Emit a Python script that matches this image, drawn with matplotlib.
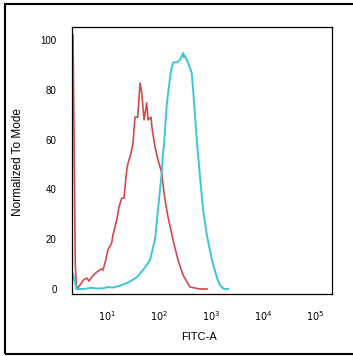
import matplotlib
matplotlib.use("Agg")
import matplotlib.pyplot as plt
from matplotlib.patches import Rectangle

plt.rcParams['font.family'] = ['Liberation Sans', 'DejaVu Sans']

# isotype control (red)
red_x = [2.22, 2.45, 2.6, 3.03, 3.5, 4.07, 4.51, 5.08, 6.34, 7.67, 8.38, 9.44,
         10.4, 12.3, 13.0, 15.4, 17.0, 19.2, 21.2, 23.9, 25.4, 29.0, 31.6,
         34.5, 38.9, 43.1, 46.5, 51.5, 58.0, 61.4, 70.1, 73.3, 83.8, 95.7,
         112.7, 124.8, 140.6, 148.9, 185.8, 231.9, 289.4, 394.5, 614, 837]
red_y = [102, 10, 0, 1.6, 3.6, 4.4, 3.2, 4.8, 6.8, 8, 7.6, 11.6,
         15.7, 18.5, 21.7, 27.7, 33, 36.5, 36.5, 47.8, 50.6, 54.6, 58.6,
         69, 69, 82.7, 78.7, 67.9, 74.7, 67.9, 69, 64.7, 57, 51.8,
         46.6, 38.6, 31.7, 29, 19.7, 11.6, 5.6, 0.8, 0, 0]

# stained sample (cyan)
cyan_x = [2.22, 2.6, 3.5, 5.0, 6.3, 8.4, 10.4, 13.0, 17.0, 24.2, 30, 37.7,
          49.2, 67.1, 83.8, 95.7, 104.5, 112.7, 119.4, 124.8, 140.6, 163,
          175.5, 188.4, 219, 253, 293, 300, 316, 361, 425.8, 457, 531, 614,
          701, 826, 1031, 1288, 1490, 1778, 2124]
cyan_y = [6, 0, 0, 0.5, 0.2, 0.3, 0.8, 0.6, 1.2, 2.4, 3.5, 4.8,
          7.6, 11.6, 20, 32, 40, 47, 55, 58, 74, 85,
          89, 91, 91, 92, 94.8, 93, 93.5, 90.8, 86.7, 78.7, 60, 45,
          32, 22, 12, 4.8, 1.5, 0, 0]

yticks = [0, 20, 40, 60, 80, 100]
xticks = [1e1, 1e2, 1e3, 1e4, 1e5]
xticklabels = ['$10^{1}$', '$10^{2}$', '$10^{3}$', '$10^{4}$', '$10^{5}$']

fig = plt.figure(figsize=(3.53, 3.56), dpi=100)
ax = fig.add_axes([72 / 353, 62 / 356, 260 / 353, 267 / 356])

ax.plot(red_x, red_y, color='#d24a4a', lw=1.2)
ax.plot(cyan_x, cyan_y, color='#3cc6d6', lw=1.4)

ax.set_xscale('log')
ax.set_xlim(2.12, 2.12e5)
ax.set_ylim(-2.0, 105.2)
ax.set_xticks(xticks)
ax.set_xticklabels(xticklabels, fontsize=7)
ax.minorticks_off()
ax.set_yticks(yticks)
ax.set_yticklabels([str(v) for v in yticks], fontsize=7)
ax.tick_params(length=0, pad=11)

for s in ax.spines.values():
    s.set_linewidth(0.9)
    s.set_color('black')

ax.set_ylabel('Normalized To Mode', fontsize=8.5)
ax.yaxis.set_label_coords(-0.185, 0.494)
ax.set_xlabel('FITC-A', fontsize=8)
ax.xaxis.set_label_coords(0.488, -0.142)

# outer frame, its right edge runs off the picture
fig.patches.append(Rectangle((5 / 353, 2 / 356), 1.2, 1 - 6 / 356,
                             transform=fig.transFigure, fill=False,
                             lw=1.5, edgecolor='black'))

fig.savefig('out.png', dpi=100)
